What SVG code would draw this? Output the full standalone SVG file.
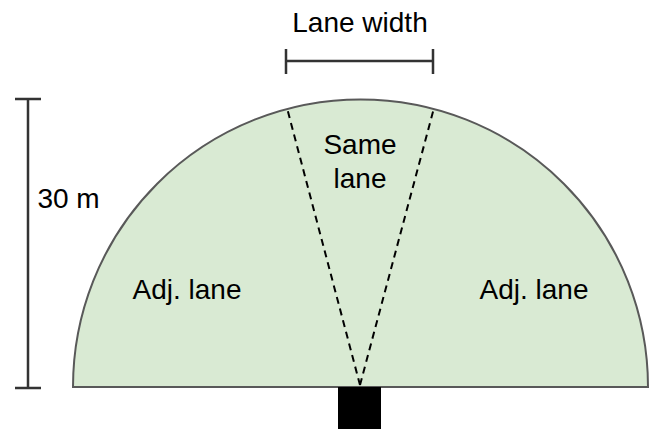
<svg xmlns="http://www.w3.org/2000/svg" width="651" height="429" viewBox="0 0 651 429">
  <style>
    .label { font-family: "Liberation Sans", Arial, sans-serif; font-size: 28px; fill: #000000; text-anchor: middle; }
    .dim { stroke: #333333; stroke-width: 2.5; fill: none; }
    .dash { stroke: #000000; stroke-width: 2; stroke-dasharray: 7 5; fill: none; }
  </style>
  <rect width="651" height="429" fill="#ffffff"/>

  <!-- sensor coverage half-disc -->
  <g id="coverage">
    <path d="M 73 387 A 287.5 287.5 0 0 1 648 387 Z" fill="#d9ead3" stroke="#595959" stroke-width="2"/>
  </g>

  <!-- lane boundaries -->
  <g id="connectors">
    <line class="dash" x1="360" y1="385" x2="287" y2="108"/>
    <line class="dash" x1="360" y1="385" x2="434" y2="108"/>
  </g>

  <!-- vehicle -->
  <g id="vehicle">
    <rect x="338" y="387" width="43" height="42" fill="#000000"/>
  </g>

  <!-- lane width dimension -->
  <g id="lane-width">
    <path class="dim" d="M 286 61 H 433 M 286 49 V 74 M 433 49 V 74"/>
    <text class="label" x="360" y="32">Lane width</text>
  </g>

  <!-- range dimension -->
  <g id="range">
    <path class="dim" d="M 28 99 V 388 M 15 99 H 41 M 15 388 H 41"/>
    <text class="label" x="68.5" y="208">30 m</text>
  </g>

  <g id="same-lane">
    <text class="label" x="360" y="154">Same</text>
    <text class="label" x="360" y="188">lane</text>
  </g>
  <g id="adj-left">
    <text class="label" x="187" y="299">Adj. lane</text>
  </g>
  <g id="adj-right">
    <text class="label" x="534" y="299">Adj. lane</text>
  </g>
</svg>
